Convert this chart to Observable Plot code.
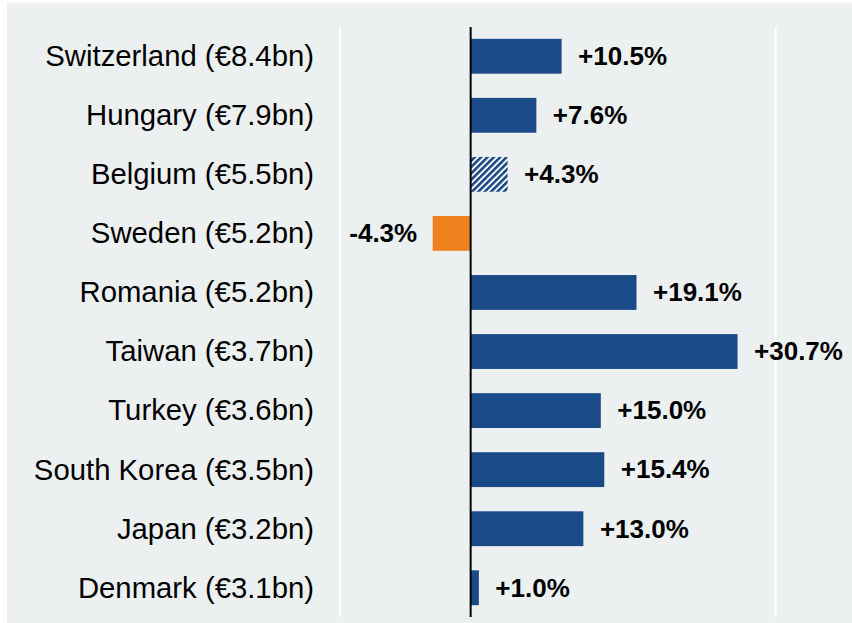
<!DOCTYPE html>
<html>
<head>
<meta charset="utf-8">
<script src="https://cdn.jsdelivr.net/npm/d3@7"></script>
<script src="https://cdn.jsdelivr.net/npm/@observablehq/plot@0.6"></script>
<style>
  html, body { margin: 0; padding: 0; background: #ffffff; }
  #wrap { position: relative; width: 852px; height: 623px; overflow: hidden; }
  #bg { position: absolute; left: 7px; top: 3px; right: 0; bottom: 0; background: #edf0f0; }
  #chart { position: absolute; left: 0; top: 0; }
  #chart svg { background: transparent; }
</style>
</head>
<body>
<div id="wrap"><div id="bg"></div><div id="chart"></div></div>
<script>
const countries = ["Switzerland","Hungary","Belgium","Sweden","Romania","Taiwan","Turkey","South Korea","Japan","Denmark"];
const exportsBn = [8.4,7.9,5.5,5.2,5.2,3.7,3.6,3.5,3.2,3.1];
const growth = [10.5,7.6,4.3,-4.3,19.1,30.7,15.0,15.4,13.0,1.0];
const hatched = [false,false,true,false,false,false,false,false,false,false];
const gridTicks = [-15, 35];

const blue = "#1b4a88";
const orange = "#f0801c";

const data = countries.map((c, i) => ({
  label: `${c} (€${exportsBn[i].toFixed(1)}bn)`,
  value: growth[i],
  hatched: hatched[i],
  text: (growth[i] > 0 ? "+" : "") + growth[i].toFixed(1) + "%"
}));
const order = data.map(d => d.label);

const chart = Plot.plot({
  width: 852,
  height: 623,
  marginLeft: 339.5,
  marginRight: 77,
  marginTop: 27,
  marginBottom: 6,
  style: { fontFamily: "'Liberation Sans', Arial, sans-serif", background: "transparent", color: "#000" },
  x: { domain: [-15, 35], axis: null },
  y: { domain: order, paddingInner: 0.41, paddingOuter: 0.2, axis: null, round: false },
  marks: [
    Plot.ruleX(gridTicks, { stroke: "#ffffff", strokeWidth: 2 }),
    Plot.barX(data.filter(d => !d.hatched), { x: "value", y: "label", fill: d => d.value < 0 ? orange : blue }),
    Plot.barX(data.filter(d => d.hatched), { x: "value", y: "label", fill: "url(#hatch)" }),
    Plot.ruleX([0], { stroke: "#000", strokeWidth: 2 }),
    Plot.axisY({ anchor: "left", tickSize: 0, tickPadding: 26, fontSize: 29.3, label: null }),
    Plot.text(data.filter(d => d.value >= 0), {
      x: "value", y: "label", text: "text",
      textAnchor: "start", dx: 16,
      fontWeight: "bold", fontSize: 26, fill: "#000"
    }),
    Plot.text(data.filter(d => d.value < 0), {
      x: "value", y: "label", text: "text",
      textAnchor: "end", dx: -16,
      fontWeight: "bold", fontSize: 26, fill: "#000"
    })
  ]
});

// hatch pattern definition
const ns = "http://www.w3.org/2000/svg";
const defs = document.createElementNS(ns, "defs");
defs.innerHTML = `<pattern id="hatch" patternUnits="userSpaceOnUse" width="4.5" height="4.5" patternTransform="rotate(45)">
  <rect x="0" y="0" width="4.5" height="4.5" fill="#ffffff"/>
  <rect x="0" y="0" width="2.6" height="4.5" fill="${blue}"/>
</pattern>`;
chart.insertBefore(defs, chart.firstChild);

document.getElementById("chart").appendChild(chart);
</script>
</body>
</html>
